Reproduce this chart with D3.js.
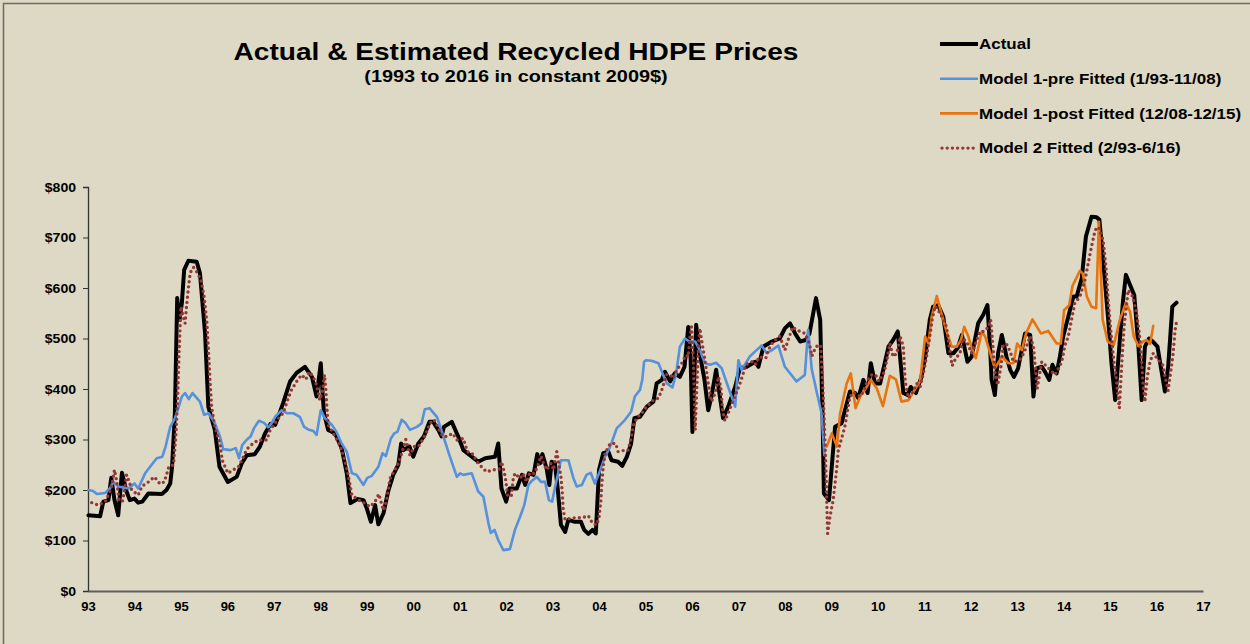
<!DOCTYPE html>
<html>
<head>
<meta charset="utf-8">
<script src="https://cdn.jsdelivr.net/npm/d3@7"></script>
<style>
  body { margin: 0; background: #ddd9c4; }
  svg { display: block; font-family: Arial, "Liberation Sans", sans-serif; }
</style>
</head>
<body>
<div id="chart"></div>
<script>
// Recycled HDPE prices, years since Jan 1993 -> constant 2009$
const actual = [
  [0.01,150],[0.26,148],[0.33,177],[0.44,180],[0.50,224],[0.57,180],[0.65,150],[0.73,234],[0.83,197],[0.90,180],
  [1.00,183],[1.08,175],[1.17,177],[1.30,193],[1.59,192],[1.69,200],[1.77,213],[1.81,246],[1.87,352],[1.92,580],
  [1.97,537],[2.02,570],[2.07,636],[2.16,654],[2.34,652],[2.41,629],[2.52,510],[2.59,365],[2.73,319],[2.83,246],
  [3.01,216],[3.20,226],[3.31,253],[3.42,269],[3.59,271],[3.70,286],[3.81,312],[3.93,331],[4.03,329],[4.20,372],
  [4.35,415],[4.49,432],[4.67,444],[4.82,424],[4.92,385],[5.01,451],[5.05,391],[5.08,352],[5.17,319],[5.32,312],
  [5.46,283],[5.57,233],[5.65,174],[5.80,182],[5.93,180],[6.00,164],[6.09,137],[6.18,170],[6.25,132],[6.36,154],
  [6.46,197],[6.57,230],[6.68,250],[6.74,292],[6.79,279],[6.92,286],[7.00,266],[7.11,292],[7.23,306],[7.35,335],
  [7.43,335],[7.54,319],[7.61,306],[7.66,325],[7.83,335],[7.94,312],[7.97,306],[8.08,279],[8.22,269],[8.40,256],
  [8.55,263],[8.76,266],[8.83,292],[8.90,203],[9.00,177],[9.07,203],[9.23,203],[9.34,230],[9.41,210],[9.49,233],
  [9.59,230],[9.67,271],[9.73,253],[9.78,271],[9.87,243],[9.93,210],[9.98,256],[10.05,253],[10.11,203],[10.18,131],
  [10.27,117],[10.34,141],[10.48,137],[10.61,137],[10.68,121],[10.77,113],[10.86,121],[10.93,114],[11.00,240],[11.09,273],
  [11.20,276],[11.27,259],[11.41,256],[11.50,248],[11.60,266],[11.69,292],[11.76,342],[11.88,345],[12.03,365],[12.17,375],
  [12.24,411],[12.35,418],[12.42,434],[12.53,415],[12.63,431],[12.74,424],[12.84,444],[12.92,523],[12.97,464],[13.01,315],
  [13.09,527],[13.16,474],[13.27,418],[13.35,358],[13.42,385],[13.52,438],[13.60,385],[13.67,342],[13.78,365],[13.93,404],
  [14.03,441],[14.18,444],[14.36,454],[14.43,444],[14.54,484],[14.72,494],[14.89,500],[15.00,520],[15.11,530],[15.22,510],
  [15.33,494],[15.45,497],[15.53,510],[15.67,580],[15.76,537],[15.81,352],[15.84,193],[15.95,180],[16.08,325],[16.22,332],
  [16.40,395],[16.51,392],[16.58,382],[16.69,418],[16.78,392],[16.85,451],[16.94,411],[17.05,411],[17.23,484],[17.33,497],
  [17.43,514],[17.55,392],[17.64,388],[17.71,404],[17.82,392],[17.94,424],[18.02,464],[18.12,537],[18.19,563],[18.30,566],
  [18.41,543],[18.52,471],[18.63,471],[18.72,481],[18.81,507],[18.93,454],[19.02,464],[19.16,530],[19.27,547],[19.36,566],
  [19.42,477],[19.45,418],[19.52,388],[19.59,471],[19.67,507],[19.77,464],[19.85,438],[19.93,424],[20.02,441],[20.17,510],
  [20.28,507],[20.35,385],[20.42,441],[20.53,444],[20.60,434],[20.69,418],[20.76,448],[20.85,431],[20.92,464],[20.99,504],
  [21.10,543],[21.21,583],[21.28,583],[21.39,619],[21.48,702],[21.60,741],[21.71,740],[21.77,735],[21.85,655],[21.96,537],
  [22.03,451],[22.11,378],[22.21,497],[22.28,576],[22.34,626],[22.43,606],[22.52,586],[22.61,484],[22.68,378],[22.75,484],
  [22.84,500],[22.92,494],[23.02,484],[23.11,434],[23.18,395],[23.25,444],[23.34,563],[23.43,571]
];

const model1Pre = [
  [0.01,200],[0.11,198],[0.19,192],[0.37,194],[0.47,203],[0.55,216],[0.65,207],[0.87,203],[1.00,213],[1.08,203],
  [1.23,233],[1.37,250],[1.48,263],[1.60,266],[1.67,286],[1.77,325],[1.87,342],[1.93,358],[2.02,385],[2.09,392],
  [2.17,380],[2.25,392],[2.41,375],[2.50,349],[2.60,352],[2.73,332],[2.84,306],[2.91,281],[3.07,279],[3.18,283],
  [3.25,263],[3.32,289],[3.42,300],[3.50,306],[3.57,322],[3.68,337],[3.79,333],[3.88,324],[3.95,332],[4.03,345],
  [4.17,358],[4.28,352],[4.42,352],[4.56,345],[4.65,325],[4.74,320],[4.85,317],[4.92,309],[5.01,358],[5.10,342],
  [5.25,329],[5.35,315],[5.46,292],[5.57,276],[5.68,233],[5.78,230],[5.93,210],[6.01,224],[6.11,228],[6.25,246],
  [6.34,273],[6.41,267],[6.52,302],[6.59,312],[6.66,315],[6.75,339],[6.84,332],[6.93,319],[7.08,325],[7.18,332],
  [7.25,360],[7.35,362],[7.51,345],[7.65,306],[7.79,266],[7.94,226],[8.01,233],[8.08,230],[8.26,233],[8.40,197],
  [8.51,187],[8.62,134],[8.67,115],[8.75,121],[8.83,101],[8.94,81],[9.08,83],[9.19,121],[9.30,147],[9.39,170],
  [9.48,210],[9.55,218],[9.66,226],[9.75,216],[9.84,216],[9.92,180],[9.99,177],[10.07,213],[10.18,259],[10.34,259],
  [10.45,223],[10.52,207],[10.63,210],[10.73,230],[10.82,234],[10.91,213],[11.00,233],[11.13,266],[11.24,286],[11.38,322],
  [11.56,339],[11.69,355],[11.77,385],[11.88,398],[11.93,418],[11.97,454],[12.01,457],[12.13,456],[12.28,451],[12.38,428],
  [12.46,411],[12.58,403],[12.66,431],[12.74,484],[12.85,500],[12.94,494],[13.07,494],[13.17,477],[13.28,451],[13.39,448],
  [13.52,452],[13.64,441],[13.78,404],[13.93,365],[14.00,457],[14.07,438],[14.25,465],[14.39,477],[14.50,486],[14.61,471],
  [14.72,477],[14.86,486],[15.00,444],[15.25,415],[15.43,428],[15.50,517],[15.58,438],[15.69,392],[15.79,352],[15.85,269]
];

const model1Post = [
  [15.90,286],[16.01,312],[16.12,286],[16.19,352],[16.33,411],[16.42,431],[16.52,362],[16.62,385],[16.72,398],[16.85,418],
  [16.98,401],[17.11,366],[17.26,426],[17.39,419],[17.51,375],[17.66,378],[17.79,398],[17.91,415],[18.02,504],[18.09,490],
  [18.16,543],[18.27,584],[18.36,553],[18.48,514],[18.59,484],[18.70,484],[18.79,497],[18.86,523],[18.95,504],[19.02,481],
  [19.11,461],[19.24,514],[19.31,504],[19.42,471],[19.52,441],[19.67,464],[19.81,451],[19.92,451],[20.00,490],[20.10,477],
  [20.19,510],[20.33,538],[20.51,510],[20.67,515],[20.85,490],[20.94,490],[21.01,556],[21.12,566],[21.19,604],[21.35,634],
  [21.41,629],[21.50,583],[21.60,563],[21.70,560],[21.76,731],[21.84,537],[21.95,494],[22.08,487],[22.21,537],[22.34,571],
  [22.43,553],[22.51,504],[22.61,485],[22.71,494],[22.79,497],[22.86,489],[22.93,525]
];

const model2 = [
  [0.08,175],[0.22,170],[0.37,177],[0.44,190],[0.51,207],[0.57,240],[0.62,216],[0.67,180],[0.74,177],[0.78,197],
  [0.83,230],[0.90,213],[0.94,200],[1.08,190],[1.16,207],[1.30,216],[1.43,226],[1.55,212],[1.64,216],[1.69,230],
  [1.74,246],[1.84,250],[1.89,306],[1.93,385],[1.96,471],[2.00,563],[2.05,543],[2.09,530],[2.12,563],[2.16,599],
  [2.20,630],[2.27,641],[2.34,632],[2.43,616],[2.50,583],[2.56,530],[2.60,464],[2.63,411],[2.66,365],[2.73,325],
  [2.84,292],[2.89,259],[3.01,233],[3.13,240],[3.24,246],[3.31,259],[3.42,281],[3.55,292],[3.67,299],[3.85,299],
  [3.92,319],[4.10,342],[4.20,352],[4.31,382],[4.38,398],[4.49,415],[4.60,428],[4.69,419],[4.76,434],[4.85,424],
  [4.92,408],[4.99,378],[5.04,392],[5.09,428],[5.12,398],[5.14,365],[5.17,329],[5.28,312],[5.42,289],[5.53,259],
  [5.60,230],[5.64,210],[5.68,190],[5.82,180],[5.95,174],[6.07,167],[6.18,177],[6.26,192],[6.36,160],[6.43,180],
  [6.50,223],[6.61,240],[6.68,253],[6.74,269],[6.84,300],[6.93,269],[7.02,286],[7.11,286],[7.20,299],[7.29,315],
  [7.36,332],[7.45,339],[7.54,322],[7.64,306],[7.72,306],[7.85,312],[7.94,299],[8.08,302],[8.13,286],[8.19,273],
  [8.29,271],[8.37,256],[8.47,246],[8.58,236],[8.72,240],[8.85,241],[8.90,256],[8.96,236],[8.99,220],[9.03,190],
  [9.11,187],[9.15,220],[9.19,233],[9.30,223],[9.37,232],[9.44,216],[9.51,234],[9.61,233],[9.69,250],[9.75,267],
  [9.80,254],[9.87,240],[9.97,253],[10.02,240],[10.09,276],[10.12,259],[10.18,226],[10.21,193],[10.23,160],[10.27,141],
  [10.38,144],[10.48,145],[10.63,145],[10.77,149],[10.86,134],[10.95,131],[11.00,146],[11.04,180],[11.06,213],[11.09,246],
  [11.13,273],[11.24,292],[11.36,292],[11.41,276],[11.52,278],[11.62,278],[11.69,302],[11.74,329],[11.81,342],[11.92,352],
  [12.03,366],[12.17,378],[12.28,382],[12.35,398],[12.46,429],[12.53,428],[12.60,421],[12.67,438],[12.78,451],[12.87,467],
  [12.92,464],[12.96,504],[12.99,523],[13.03,457],[13.07,319],[13.10,392],[13.14,484],[13.17,520],[13.22,490],[13.28,457],
  [13.35,411],[13.42,375],[13.50,392],[13.57,424],[13.62,404],[13.66,358],[13.71,337],[13.78,352],[13.89,378],[13.98,398],
  [14.05,415],[14.16,448],[14.29,454],[14.36,448],[14.45,464],[14.59,461],[14.64,477],[14.75,494],[14.89,504],[15.00,477],
  [15.07,497],[15.17,523],[15.25,517],[15.43,510],[15.53,490],[15.58,465],[15.67,484],[15.77,487],[15.81,418],[15.84,352],
  [15.88,253],[15.92,114],[15.97,147],[16.04,180],[16.08,213],[16.12,246],[16.15,279],[16.22,302],[16.29,325],[16.35,358],
  [16.40,385],[16.49,393],[16.62,385],[16.71,398],[16.78,418],[16.87,428],[16.95,428],[17.03,415],[17.14,434],[17.21,464],
  [17.26,490],[17.33,464],[17.41,471],[17.48,504],[17.55,484],[17.59,415],[17.66,382],[17.74,392],[17.84,411],[17.91,404],
  [17.98,431],[18.05,464],[18.12,504],[18.17,537],[18.23,564],[18.30,556],[18.38,543],[18.48,523],[18.53,490],[18.60,446],
  [18.68,461],[18.77,471],[18.83,500],[18.91,494],[19.02,471],[19.09,487],[19.20,514],[19.29,514],[19.38,523],[19.43,537],
  [19.49,471],[19.52,434],[19.58,408],[19.65,444],[19.70,487],[19.77,489],[19.85,474],[19.92,454],[20.05,457],[20.15,472],
  [20.28,504],[20.35,484],[20.40,434],[20.43,401],[20.53,454],[20.60,448],[20.71,438],[20.81,428],[20.89,441],[20.96,454],
  [21.03,487],[21.10,504],[21.17,537],[21.24,570],[21.35,583],[21.46,616],[21.53,649],[21.60,682],[21.68,715],[21.75,721],
  [21.85,695],[21.91,642],[21.96,576],[22.02,510],[22.08,457],[22.13,424],[22.18,378],[22.20,362],[22.25,448],[22.30,523],
  [22.39,596],[22.49,583],[22.57,550],[22.63,510],[22.68,457],[22.71,408],[22.75,375],[22.80,424],[22.86,454],[22.93,471],
  [23.04,457],[23.13,448],[23.20,418],[23.25,397],[23.30,431],[23.35,464],[23.40,517],[23.43,533]
];

const yTicks = [0, 100, 200, 300, 400, 500, 600, 700, 800];
const xTickLabels = ['93','94','95','96','97','98','99','00','01','02','03','04','05','06','07','08','09','10','11','12','13','14','15','16','17'];

const width = 1250;
const height = 644;
const margin = { top: 187, right: 47, bottom: 53, left: 88 };

const svg = d3.select('#chart')
  .append('svg')
  .attr('width', width)
  .attr('height', height);

// Chart frame
svg.append('rect')
  .attr('x', 3.5).attr('y', 3.5)
  .attr('width', width + 10).attr('height', height + 10)
  .attr('fill', '#ddd9c4')
  .attr('stroke', '#6b6b6b')
  .attr('stroke-width', 1.5);

const x = d3.scaleLinear()
  .domain([0, xTickLabels.length - 1])
  .range([margin.left, width - margin.right]);

const y = d3.scaleLinear()
  .domain([0, 800])
  .range([height - margin.bottom, margin.top]);

// the original text is set a bit wider than Arial, stretch it sideways
function widen(sel, k) {
  sel.each(function() {
    const w = this.getComputedTextLength();
    d3.select(this).attr('textLength', w * k).attr('lengthAdjust', 'spacingAndGlyphs');
  });
}

// Title
svg.append('text')
  .attr('x', 516).attr('y', 60)
  .attr('text-anchor', 'middle')
  .attr('font-size', 24).attr('font-weight', 'bold')
  .text('Actual & Estimated Recycled HDPE Prices')
  .call(widen, 1.17);

svg.append('text')
  .attr('x', 516).attr('y', 82)
  .attr('text-anchor', 'middle')
  .attr('font-size', 16).attr('font-weight', 'bold')
  .text('(1993 to 2016 in constant 2009$)')
  .call(widen, 1.24);

// Y axis
const yAxis = svg.append('g')
  .attr('transform', `translate(${margin.left},0)`)
  .call(d3.axisLeft(y).tickValues(yTicks).tickSize(5).tickPadding(7).tickFormat(d => '$' + d));
yAxis.select('.domain').attr('stroke', '#333').attr('stroke-width', 1.3);
yAxis.selectAll('.tick line').attr('stroke', '#333');
yAxis.selectAll('text')
  .attr('font-size', 13).attr('font-weight', 'bold')
  .attr('font-family', 'Arial, "Liberation Sans", sans-serif')
  .attr('fill', '#000')
  .call(widen, 1.08);

// X axis
const xAxis = svg.append('g')
  .attr('transform', `translate(0,${y(0)})`)
  .call(d3.axisBottom(x).tickValues(d3.range(xTickLabels.length))
    .tickSize(0).tickPadding(11).tickFormat(i => xTickLabels[i]));
xAxis.select('.domain').attr('stroke', '#5f5f5a').attr('stroke-width', 2.2);
xAxis.selectAll('text')
  .attr('font-size', 13).attr('font-weight', 'bold')
  .attr('font-family', 'Arial, "Liberation Sans", sans-serif')
  .attr('fill', '#000');

const line = d3.line()
  .x(d => x(d[0]))
  .y(d => y(d[1]));

const series = [
  { name: 'Actual', data: actual, color: '#000000', width: 4, dash: null },
  { name: 'Model 1-pre Fitted (1/93-11/08)', data: model1Pre, color: '#5591dc', width: 2.6, dash: null },
  { name: 'Model 1-post Fitted (12/08-12/15)', data: model1Post, color: '#e8730f', width: 2.6, dash: null },
  { name: 'Model 2 Fitted (2/93-6/16)', data: model2, color: '#953735', width: 3.4, dash: '0 5.2' }
];

svg.append('g')
  .selectAll('path')
  .data(series)
  .enter().append('path')
  .attr('d', d => line(d.data))
  .attr('fill', 'none')
  .attr('stroke', d => d.color)
  .attr('stroke-width', d => d.width)
  .attr('stroke-linejoin', 'round')
  .attr('stroke-linecap', 'round')
  .attr('stroke-dasharray', d => d.dash);

// Legend
const legend = svg.append('g')
  .selectAll('g')
  .data(series)
  .enter().append('g')
  .attr('transform', (d, i) => `translate(940,${44 + i * 34.7})`);

legend.append('line')
  .attr('x1', d => d.dash ? 2 : 0).attr('x2', 38)
  .attr('stroke', d => d.color)
  .attr('stroke-width', d => d.width)
  .attr('stroke-linecap', d => d.dash ? 'round' : 'butt')
  .attr('stroke-dasharray', d => d.dash);

legend.append('text')
  .attr('x', 39).attr('dy', '0.36em')
  .attr('font-size', 14.5).attr('font-weight', 'bold')
  .text(d => d.name)
  .call(widen, 1.17);
</script>
</body>
</html>
